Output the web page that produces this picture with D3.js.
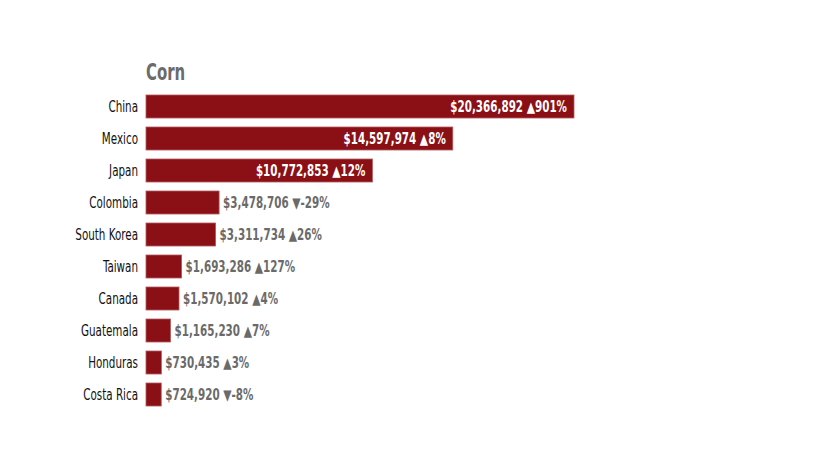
<!DOCTYPE html>
<html>
<head>
<meta charset="utf-8">
<script src="https://d3js.org/d3.v7.min.js"></script>
<style>
body { margin: 0; background: white; }
svg text { font-family: "DejaVu Sans Condensed", "DejaVu Sans", sans-serif; }
.title { font-size: 23px; font-weight: bold; fill: #6b6b6b; }
.label { font-size: 16px; fill: #111; }
.val { font-size: 16px; font-weight: bold; }
.val .tri { font-family: "DejaVu Sans", sans-serif; font-size: 15px; font-weight: normal; }
</style>
</head>
<body>
<svg id="chart" width="840" height="450"></svg>
<script>
var countries = ["China","Mexico","Japan","Colombia","South Korea","Taiwan","Canada","Guatemala","Honduras","Costa Rica"];
var values = [20366892,14597974,10772853,3478706,3311734,1693286,1570102,1165230,730435,724920];
var changes = [901,8,12,-29,26,127,4,7,3,-8];

var left = 146;
var top0 = 95;
var width = 428;
var sx = 0.72; // squeeze text to mimic a condensed face

var svg = d3.select("#chart");

var x = d3.scaleLinear()
    .domain([0, d3.max(values)])
    .range([0, width]);

var y = d3.scaleBand()
    .domain(countries)
    .range([top0, top0 + 32 * 9 + 23])
    .paddingInner(9 / 32)
    .paddingOuter(0);

function place(sel, px, py) {
    sel.attr("transform", "translate(" + px + "," + py + ") scale(" + sx + ",1)");
}

svg.append("text")
    .attr("class", "title")
    .call(place, left, 80)
    .text("Corn");

var fmt = d3.format("$,");

var rows = svg.selectAll("g.row")
    .data(countries)
    .enter().append("g")
    .attr("class", "row");

rows.append("rect")
    .attr("x", left)
    .attr("y", function(d) { return y(d); })
    .attr("width", function(d, i) { return x(values[i]); })
    .attr("height", y.bandwidth())
    .attr("fill", "#8a1015")
    .attr("stroke", "#b05a5c")
    .attr("stroke-width", 0.8);

rows.append("text")
    .attr("class", "label")
    .each(function(d) {
        d3.select(this).call(place, left - 8, y(d) + y.bandwidth() / 2);
    })
    .attr("dy", "0.36em")
    .attr("text-anchor", "end")
    .text(function(d) { return d; });

rows.append("text")
    .attr("class", "val")
    .attr("dy", "0.36em")
    .each(function(d, i) {
        var w = x(values[i]);
        var inside = w > 150;
        var c = changes[i];
        var t = d3.select(this)
            .call(place, inside ? left + w - 7 : left + w + 4, y(d) + y.bandwidth() / 2)
            .attr("text-anchor", inside ? "end" : "start")
            .attr("fill", inside ? "#fff" : "#6a6a6a");
        t.append("tspan").text(fmt(values[i]) + (inside ? "  " : " "));
        t.append("tspan").attr("class", "tri")
            .text((c < 0 ? "\u25BC" : "\u25B2"));
        t.append("tspan").text(c + "%");
    });
</script>
</body>
</html>
